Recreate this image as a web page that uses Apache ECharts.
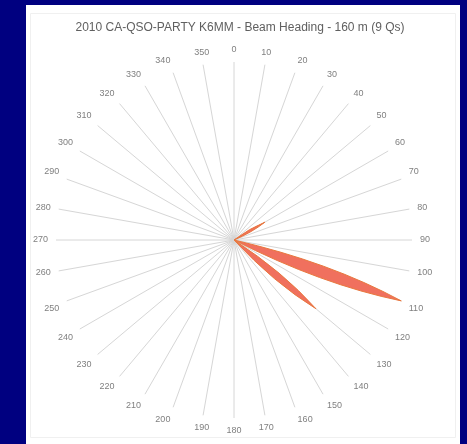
<!DOCTYPE html>
<html lang="en">
  <head>
    <meta charset="utf-8">
    <title>Beam Heading</title>
    <style>
      html, body { margin: 0; padding: 0; background: #000080; }
      #chart { width: 467px; height: 444px; }
    </style>
  </head>
  <body>
    <div id="chart"></div>

    <script src="https://cdn.jsdelivr.net/npm/echarts@6/dist/echarts.min.js"></script>
    <script>
      //chart data
      var titleText = "2010 CA-QSO-PARTY K6MM - Beam Heading - 160 m (9 Qs)";
      var headings = [60, 110, 130];   //beam heading, degrees
      var qsoCounts = [1, 5, 3];       //Qs at that heading
      var maxCount = 5;

      var points = [];
      for (var i = 0; i < headings.length; i++) {
          points.push([qsoCounts[i], headings[i]]);
      }

      var myChart = echarts.init(document.getElementById('chart'));

      //spindle shaped petal from center to the count
      function petal(params, api) {
          var r = api.value(0);
          var a = api.value(1);
          var spread = 7;
          var c = api.coord([0, a]);
          var tip = api.coord([r, a]);
          var c1 = api.coord([r * 0.55, a - spread]);
          var c2 = api.coord([r * 0.55, a + spread]);
          var d = 'M' + c[0] + ' ' + c[1] +
                  ' Q' + c1[0] + ' ' + c1[1] + ' ' + tip[0] + ' ' + tip[1] +
                  ' Q' + c2[0] + ' ' + c2[1] + ' ' + c[0] + ' ' + c[1] + ' Z';
          return {
              type: 'path',
              shape: { pathData: d },
              style: { fill: '#f0705e', stroke: '#e8783e', lineWidth: 1 }
          };
      }

      myChart.setOption({
          backgroundColor: '#000080',
          animation: false,
          graphic: [
              { type: 'rect', shape: { x: 26, y: 5, width: 434, height: 439 }, style: { fill: '#ffffff' }, z: -10 },
              { type: 'rect', shape: { x: 30.5, y: 13.5, width: 425, height: 424 }, style: { fill: 'none', stroke: '#f0f0f0' }, z: -9 }
          ],
          title: {
              text: titleText,
              left: 235,
              textAlign: 'center',
              top: 17,
              textStyle: { fontFamily: 'Liberation Sans', fontSize: 12, fontWeight: 'normal', color: '#606060' }
          },
          polar: {
              center: [234, 240],
              radius: 178
          },
          angleAxis: {
              type: 'value',
              min: 0,
              max: 360,
              interval: 10,
              startAngle: 90,
              clockwise: true,
              axisLine: { show: false },
              axisTick: { show: false },
              axisLabel: { margin: 8, fontFamily: 'Liberation Sans', fontSize: 9, color: '#808080' },
              splitLine: { show: true, lineStyle: { color: '#d6d6d6', width: 1 } }
          },
          radiusAxis: {
              type: 'value',
              min: 0,
              max: maxCount,
              axisLine: { show: false },
              axisTick: { show: false },
              axisLabel: { show: false },
              splitLine: { show: false }
          },
          series: [{
              type: 'custom',
              coordinateSystem: 'polar',
              renderItem: petal,
              data: points
          }]
      });
    </script>
  </body>
</html>
